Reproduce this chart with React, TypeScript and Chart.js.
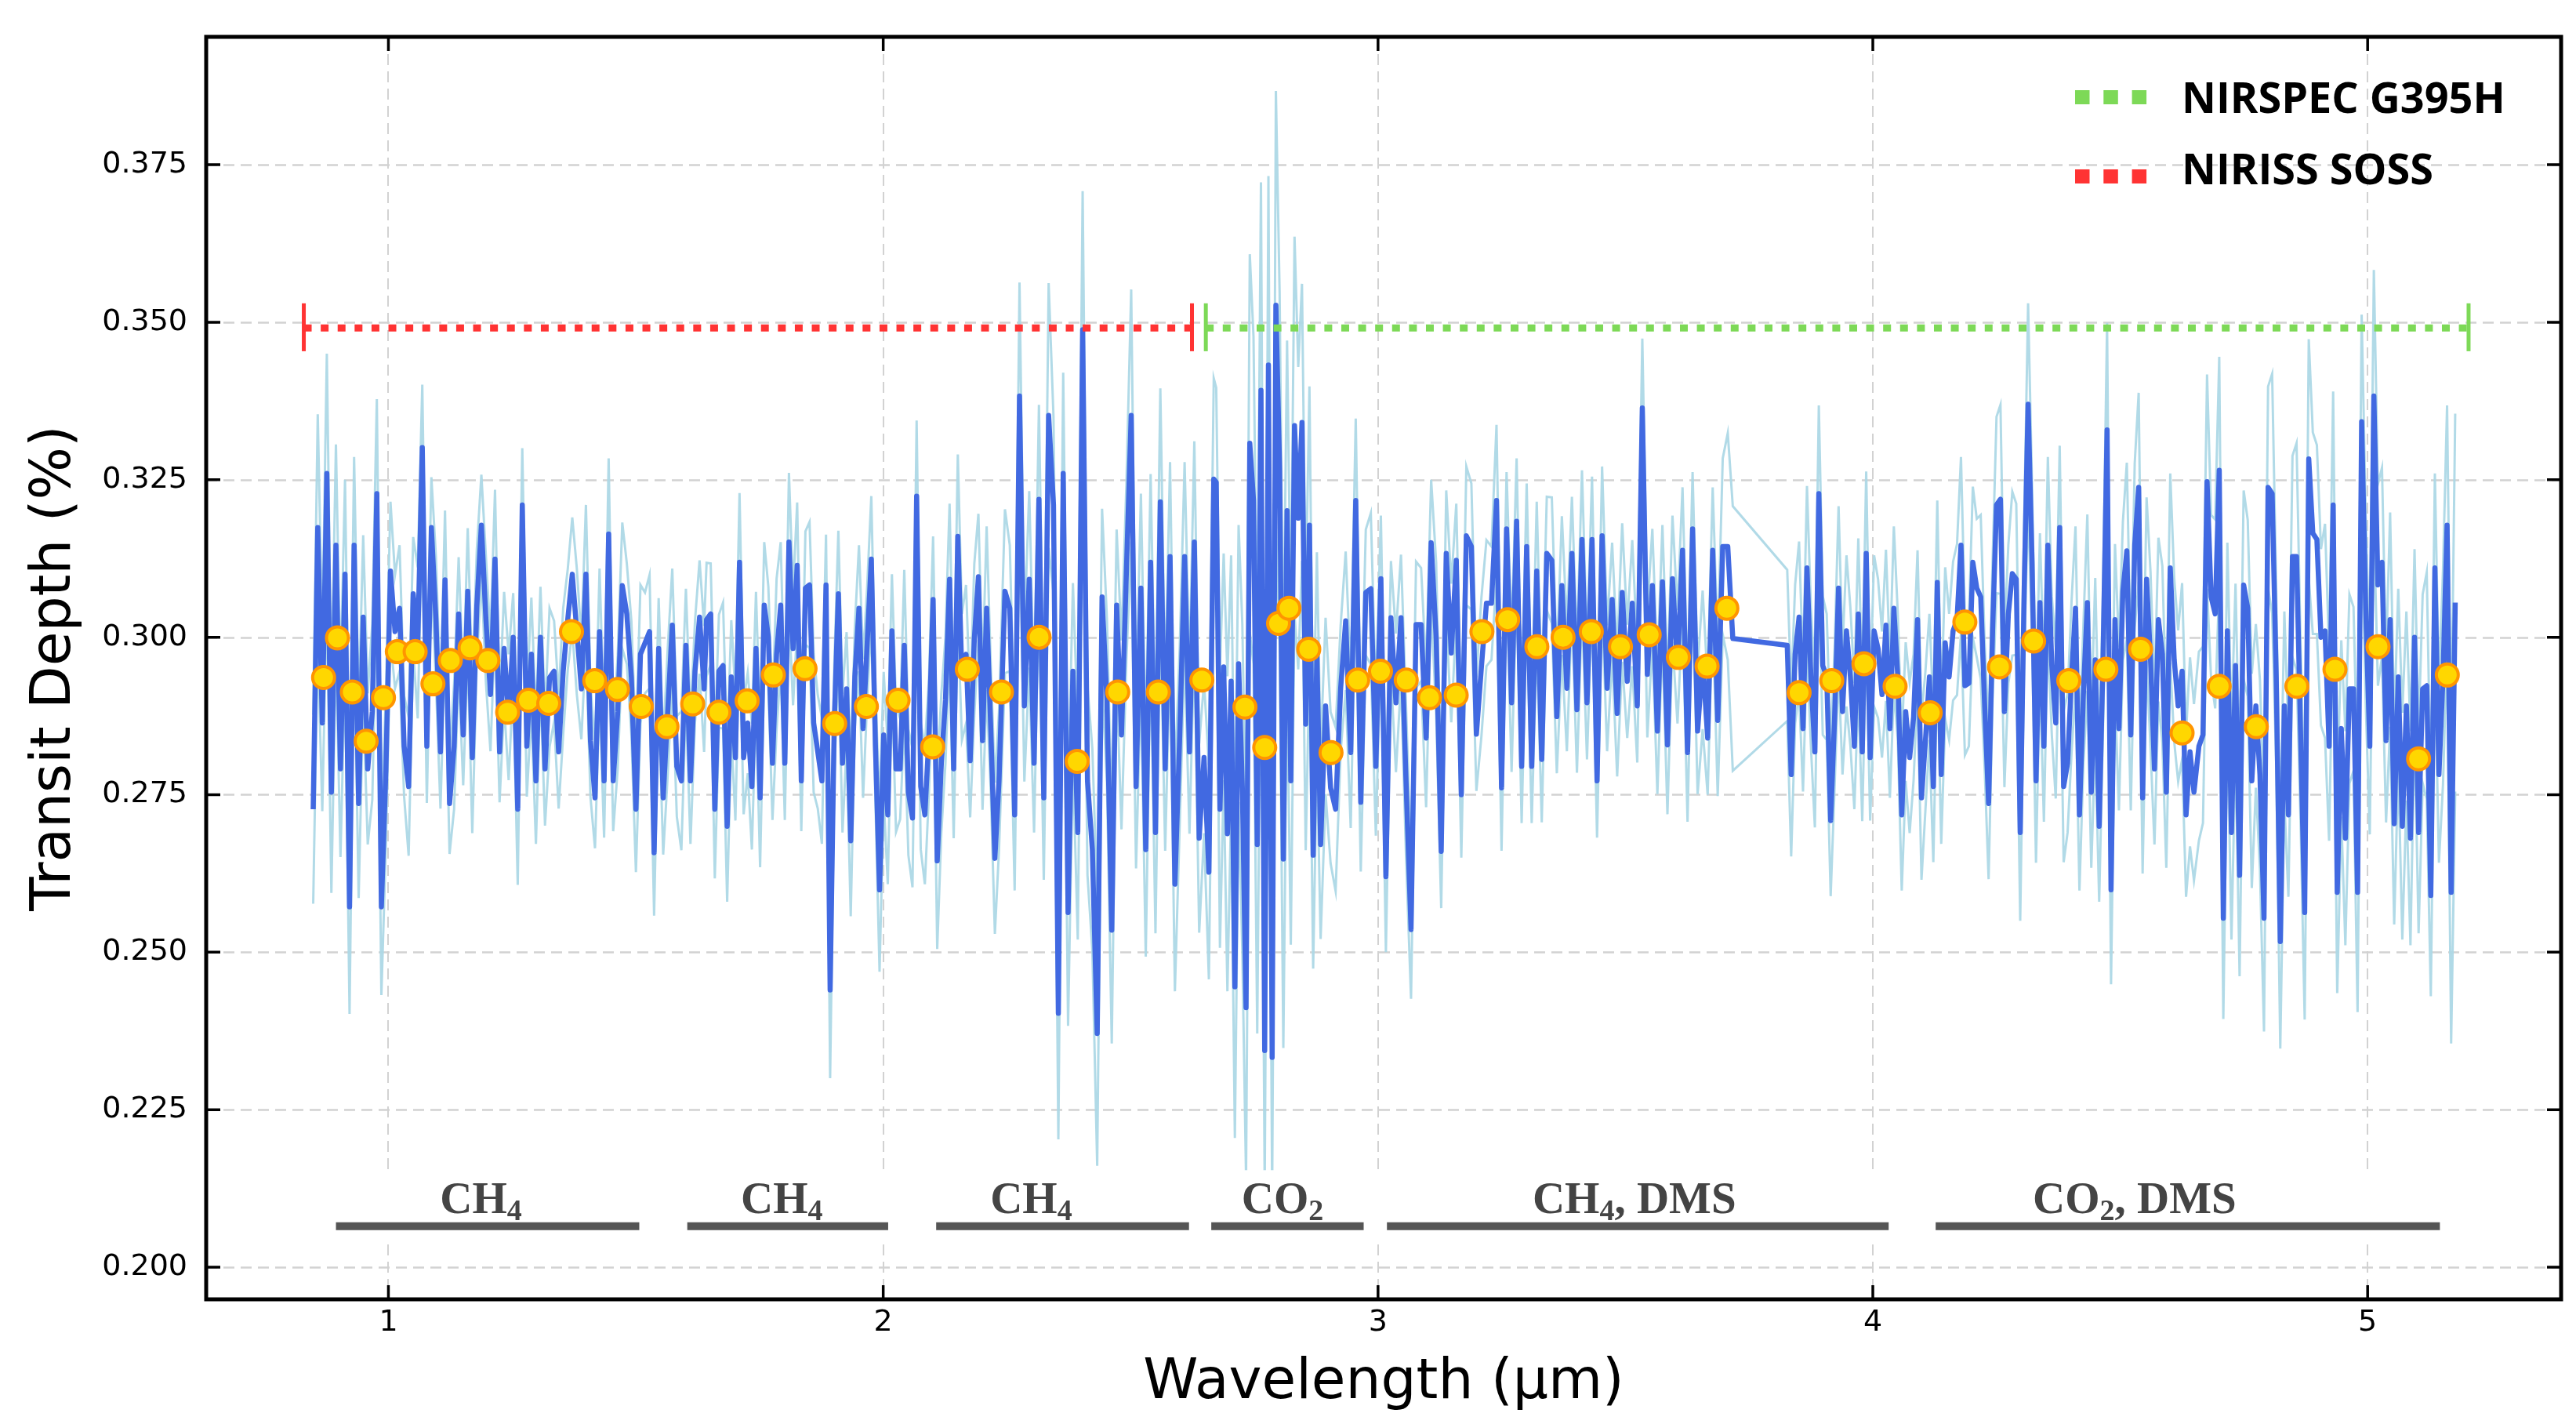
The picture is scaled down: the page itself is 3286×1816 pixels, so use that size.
import React, { useEffect, useRef } from "react";
import { Chart, registerables } from "chart.js";

Chart.register(...registerables);

const CANVAS_W = 3286;
const CANVAS_H = 1816;

// Axis extents and tick positions
const wavelengthLimits = [0.6317, 5.391];
const depthLimits = [0.1949, 0.3953];
const wavelengthTicks = [1, 2, 3, 4, 5];
const depthTicks = [0.2, 0.225, 0.25, 0.275, 0.3, 0.325, 0.35, 0.375];

// Transmission spectrum, stored per detector stretch.
// span = first and last wavelength (µm), depth in %, err = 1-sigma in units of 0.001 %.
const spanA = [0.848, 1.638];
const depthA = [
  0.2727, 0.3174, 0.2864, 0.326, 0.2754, 0.3146, 0.2791, 0.31, 0.2572, 0.3146,
  0.2736, 0.3032, 0.2791, 0.2882, 0.3228, 0.2572, 0.2791, 0.3105, 0.3009, 0.3046,
  0.2827, 0.2763, 0.3069, 0.2991, 0.3301, 0.2827, 0.3174, 0.3028, 0.2818, 0.3091,
  0.2736, 0.2827, 0.3037, 0.2845, 0.3073, 0.2809, 0.305, 0.3178, 0.3028, 0.2909,
  0.3124, 0.2818, 0.2982, 0.2873, 0.3, 0.2727, 0.321, 0.2827, 0.2973, 0.2772,
  0.3, 0.2791, 0.2936, 0.2946, 0.2818, 0.2946, 0.3028, 0.31, 0.3009, 0.2918,
  0.31, 0.2836, 0.2745, 0.3009, 0.2772, 0.3164, 0.2772, 0.2882, 0.3082, 0.3037,
  0.2936, 0.2727, 0.2973, 0.2991, 0.3009, 0.2658, 0.2982, 0.2745, 0.2882, 0.3019,
  0.2795, 0.2772, 0.2987, 0.2772, 0.2946, 0.3032, 0.2918,
];
const errA = [
  15, 18, 14, 19, 16, 16, 14, 15, 17, 14,
  15, 13, 12, 14, 15, 14, 12, 11, 9, 10,
  8, 11, 9, 12, 10, 9, 8, 10, 9, 11,
  8, 10, 9, 8, 10, 12, 9, 8, 10, 9,
  11, 8, 9, 10, 7, 12, 9, 8, 9, 10,
  8, 9, 11, 8, 9, 10, 8, 9, 10, 8,
  11, 9, 8, 10, 9, 12, 8, 9, 10, 8,
  9, 10, 11, 8, 9, 10, 8, 9, 10, 9,
  8, 11, 9, 10, 8, 9, 10,
];

const spanB1 = [1.643, 2.234];
const depthB1 = [
  0.3028, 0.3037, 0.2727, 0.2946, 0.2955, 0.27, 0.2937, 0.2809, 0.3119, 0.2809,
  0.2864, 0.2763, 0.2982, 0.2745, 0.3051, 0.3, 0.28, 0.2973, 0.3051, 0.28,
  0.3151, 0.2982, 0.3114, 0.2772, 0.3078, 0.3083, 0.2864, 0.2818, 0.2772, 0.3083,
  0.244, 0.2864, 0.3069, 0.28, 0.2918, 0.2677, 0.2937, 0.3046, 0.2855, 0.2991,
  0.3124, 0.2827, 0.2599, 0.2845, 0.2718, 0.301, 0.2791, 0.2791, 0.2987, 0.2754,
  0.2713, 0.3224, 0.2763, 0.2718, 0.2845, 0.306, 0.2645, 0.28, 0.29, 0.3092,
  0.2791, 0.316, 0.2937, 0.2973, 0.2804, 0.2996, 0.3096, 0.2836, 0.3046, 0.2855,
  0.2649, 0.2772,
];
const errB1 = [
  9, 8, 11, 9, 10, 12, 9, 10, 11, 9,
  8, 10, 9, 11, 10, 8, 9, 12, 10, 9,
  11, 9, 10, 8, 9, 10, 11, 9, 10, 8,
  14, 9, 10, 11, 9, 12, 8, 10, 11, 9,
  10, 9, 13, 10, 11, 9, 10, 8, 12, 10,
  11, 12, 10, 11, 9, 10, 14, 11, 10, 12,
  11, 13, 10, 11, 9, 12, 10, 11, 13, 10,
  12, 11,
];

const spanB2 = [2.246, 2.668];
const depthB2 = [
  0.3073, 0.3046, 0.2718, 0.3383, 0.2891, 0.3092, 0.28, 0.3219,
  0.2745, 0.3352, 0.321, 0.2403, 0.326, 0.2563, 0.2946, 0.269, 0.3488, 0.2772,
  0.2663, 0.2371, 0.3064, 0.29, 0.2535, 0.3051, 0.2845, 0.3101, 0.3352, 0.2763,
  0.3078, 0.2663, 0.3119, 0.269, 0.3215, 0.2791, 0.3128, 0.2608, 0.2845, 0.3128,
  0.2818, 0.3151, 0.2681, 0.2809, 0.2627, 0.3251,
];
const errB2 = [
  13, 10, 12, 18, 12, 14, 11, 15,
  13, 21, 14, 20, 16, 18, 14, 17, 22, 15,
  16, 21, 14, 13, 18, 12, 15, 14, 20, 13,
  15, 17, 14, 16, 18, 13, 15, 17, 14, 15,
  13, 16, 15, 12, 17, 16,
];

const spanC1 = [2.673, 2.884];
const depthC1 = [
  0.3246, 0.2727, 0.2953, 0.2688, 0.293, 0.2445, 0.2958, 0.2761, 0.2412, 0.3308,
  0.3217, 0.2671, 0.3392, 0.2344, 0.3432, 0.2333, 0.3527, 0.3268, 0.2648, 0.3201,
  0.2772, 0.3336, 0.3189, 0.3341, 0.2862, 0.3178, 0.2654, 0.2975, 0.2671,
];
const errC1 = [
  15, 22, 18, 25, 20, 24, 22, 26, 27, 30,
  26, 30, 33, 22, 30, 22, 34, 28, 30, 27,
  26, 30, 24, 22, 20, 22, 18, 16, 15,
];

const spanC2 = [2.894, 3.717];
const depthC2 = [
  0.2891, 0.2761, 0.2727, 0.2919, 0.3026, 0.2817, 0.3217, 0.2738, 0.3071, 0.3077,
  0.2795, 0.3093, 0.262, 0.3031, 0.2896, 0.3031, 0.2772, 0.2536, 0.302, 0.302,
  0.284, 0.315, 0.2998, 0.266, 0.3133, 0.2975, 0.3122, 0.275, 0.3161, 0.3144,
  0.2846, 0.2953, 0.3054, 0.3054, 0.3217, 0.2761, 0.3172, 0.2896, 0.3184, 0.2795,
  0.3144, 0.2795, 0.3105, 0.2806, 0.3133, 0.3122, 0.2874, 0.3082, 0.2919, 0.3133,
  0.2885, 0.3155, 0.2896, 0.3155, 0.2772, 0.3161, 0.2919, 0.306, 0.2879, 0.3071,
  0.293, 0.3054, 0.2891, 0.3364, 0.2941, 0.3082, 0.2851, 0.3088, 0.2829, 0.3093,
  0.2953, 0.3138, 0.2817, 0.3172, 0.2851, 0.2964, 0.284, 0.3138, 0.2868, 0.3144,
  0.3144, 0.2998,
];
const errC2 = [
  14, 12, 13, 10, 11, 12, 13, 11, 10, 12,
  11, 10, 12, 9, 11, 10, 12, 11, 10, 9,
  11, 10, 12, 9, 10, 11, 9, 10, 11, 10,
  9, 11, 10, 9, 12, 10, 9, 11, 10, 9,
  10, 9, 11, 10, 9, 10, 9, 11, 10, 9,
  10, 11, 9, 10, 9, 11, 10, 9, 10, 11,
  9, 10, 9, 11, 10, 9, 10, 9, 11, 10,
  9, 10, 11, 9, 10, 11, 9, 10, 12, 14,
  18, 21,
];

const spanD = [3.827, 4.649];
const depthD = [
  0.2987, 0.2782, 0.2973, 0.3032, 0.2855, 0.311, 0.2937, 0.2818, 0.3228, 0.2955,
  0.2937, 0.2709, 0.2873, 0.3078, 0.2882, 0.301, 0.2937, 0.2827, 0.3037, 0.2818,
  0.3133, 0.2809, 0.301, 0.2982, 0.2909, 0.3019, 0.2855, 0.3046, 0.2937, 0.2718,
  0.2882, 0.2809, 0.2873, 0.3028, 0.2745, 0.2836, 0.2937, 0.2763, 0.3087, 0.2782,
  0.2991, 0.2937, 0.301, 0.3028, 0.3146, 0.2923, 0.2927, 0.3119, 0.3078, 0.3064,
  0.2891, 0.2736, 0.301, 0.321, 0.3219, 0.2882, 0.3037, 0.3101, 0.3092, 0.269,
  0.3073, 0.337, 0.3119, 0.2772, 0.3055, 0.2827, 0.3146, 0.2955, 0.2864, 0.3174,
  0.2763, 0.28, 0.2937, 0.3046, 0.2718, 0.2909, 0.3055, 0.2754, 0.2964, 0.27,
  0.2973, 0.3329, 0.2599, 0.3028, 0.2855, 0.3073, 0.3137, 0.2845, 0.3146, 0.3238,
  0.2745, 0.3092, 0.2964, 0.2791, 0.3028, 0.2973, 0.2754, 0.311, 0.2964, 0.2891,
  0.2946, 0.2718, 0.2818, 0.2754,
];
const errD = [
  12, 13, 11, 12, 10, 13, 11, 12, 14, 11,
  10, 12, 11, 13, 10, 12, 11, 10, 12, 11,
  13, 10, 12, 11, 10, 12, 11, 13, 10, 12,
  11, 12, 10, 11, 13, 11, 10, 12, 13, 11,
  12, 10, 11, 12, 14, 11, 10, 12, 11, 13,
  10, 12, 11, 14, 15, 12, 11, 13, 12, 14,
  11, 16, 12, 13, 11, 12, 14, 11, 12, 13,
  12, 11, 12, 13, 12, 11, 14, 12, 13, 12,
  11, 17, 15, 12, 13, 11, 14, 12, 13, 15,
  12, 13, 14, 12, 13, 14, 12, 15, 13, 12,
  14, 13, 15, 14,
];

const spanE = [4.659, 5.177];
const depthE = [
  0.2827, 0.2845, 0.3247, 0.3064, 0.3037, 0.3265, 0.2554, 0.301, 0.269, 0.2955,
  0.2622, 0.3083, 0.3046, 0.2772, 0.2891, 0.2782, 0.2554, 0.3238, 0.3228, 0.2937,
  0.2517, 0.2891, 0.2718, 0.3128, 0.3128, 0.2845, 0.2563, 0.3283, 0.3165, 0.3155,
  0.3, 0.301, 0.2827, 0.321, 0.2595, 0.2855, 0.2681, 0.2918, 0.2918, 0.2595,
  0.3342, 0.3046, 0.2827, 0.3383, 0.3083, 0.3119, 0.2836, 0.3028, 0.2704, 0.2937,
  0.27, 0.2891, 0.2681, 0.3, 0.269, 0.2918, 0.2923, 0.259, 0.311, 0.2782,
  0.2937, 0.3178, 0.2595, 0.3055,
];
const errE = [
  15, 14, 17, 13, 15, 18, 16, 14, 17, 13,
  16, 15, 14, 17, 13, 15, 18, 16, 19, 14,
  17, 15, 13, 16, 18, 14, 17, 19, 16, 15,
  14, 17, 15, 18, 16, 14, 17, 15, 13, 19,
  17, 15, 14, 20, 16, 15, 13, 17, 16, 14,
  18, 15, 17, 14, 16, 15, 18, 16, 15, 14,
  17, 19, 24, 30,
];

// Binned spectrum (yellow markers)
const binWavelength = [
  0.869, 0.897, 0.927, 0.955, 0.99, 1.018, 1.054, 1.09, 1.125, 1.165,
  1.201, 1.241, 1.283, 1.324, 1.37, 1.417, 1.463, 1.511, 1.563, 1.615,
  1.668, 1.725, 1.778, 1.842, 1.902, 1.966, 2.03, 2.1, 2.17, 2.239,
  2.315, 2.392, 2.474, 2.556, 2.644, 2.731, 2.771, 2.799, 2.82, 2.86,
  2.905, 2.959, 3.005, 3.057, 3.104, 3.158, 3.21, 3.262, 3.321, 3.374,
  3.431, 3.49, 3.548, 3.607, 3.665, 3.705, 3.851, 3.917, 3.982, 4.045,
  4.116, 4.186, 4.256, 4.325, 4.396, 4.471, 4.541, 4.625, 4.7, 4.775,
  4.857, 4.934, 5.021, 5.103, 5.161,
];
const binDepth = [
  0.2936, 0.2999, 0.2913, 0.2835, 0.2904, 0.2977, 0.2977, 0.2926, 0.2963, 0.2983,
  0.2963, 0.2881, 0.29, 0.2895, 0.3009, 0.2931, 0.2917, 0.289, 0.2858, 0.2894,
  0.2881, 0.2899, 0.294, 0.295, 0.2863, 0.289, 0.29, 0.2826, 0.2949, 0.2913,
  0.3, 0.2803, 0.2913, 0.2913, 0.2932, 0.2889, 0.2825, 0.3022, 0.3046, 0.2981,
  0.2817, 0.2932, 0.2946, 0.2932, 0.2904, 0.2908, 0.3009, 0.3028, 0.2985, 0.3,
  0.3009, 0.2985, 0.3004, 0.2968, 0.2954, 0.3046, 0.2912, 0.2931, 0.2958, 0.2922,
  0.288, 0.3024, 0.2953, 0.2994, 0.2931, 0.2949, 0.2981, 0.2848, 0.2922, 0.2858,
  0.2922, 0.2949, 0.2985, 0.2807, 0.294,
];

// Instrument coverage
const instrumentNames = ["NIRSPEC G395H", "NIRISS SOSS"];
const nirspecSpan = [2.652, 5.204];
const nirissSpan = [0.829, 2.624];
const coverageLevel = 0.3491;
const coverageCap = [0.3454, 0.353];

// Molecular feature bands
const bandLabels = ["CH₄", "CH₄", "CH₄", "CO₂", "CH₄, DMS", "CO₂, DMS"];
const bandStart = [0.894, 1.604, 2.107, 2.663, 3.018, 4.127];
const bandEnd = [1.507, 2.01, 2.618, 2.971, 4.032, 5.146];
const bandLabelCenter = [1.187, 1.795, 2.299, 2.807, 3.518, 4.529];
const bandLevel = 0.2065;
const bandLabelBaseline = 0.2086;
const bandBackdrop = [0.2038, 0.2154];

const DARK_BLUE = "#4169E1";
const LIGHT_BLUE = "rgba(173, 216, 230, 0.95)";
const RED = "#ff3333";
const GREEN = "#7dd957";
const GOLD = "#FFD700";
const ORANGE = "#FF9500";
const GRID = "#d2d2d2";

type Pt = { x: number; y: number; e: number };

function block(span: number[], depth: number[], err: number[]): Pt[] {
  const n = depth.length;
  return depth.map((d, i) => ({
    x: span[0] + ((span[1] - span[0]) * i) / (n - 1),
    y: d,
    e: err[i] / 1000,
  }));
}

const SUBSCRIPTS = "₀₁₂₃₄₅₆₇₈₉";

function drawFormula(ctx: CanvasRenderingContext2D, text: string, cx: number, baseline: number) {
  const mainFont = 'bold 57px "Liberation Serif", "Times New Roman", serif';
  const subFont = 'bold 38px "Liberation Serif", "Times New Roman", serif';
  const parts: { t: string; sub: boolean }[] = [];
  for (const ch of text) {
    const k = SUBSCRIPTS.indexOf(ch);
    const sub = k >= 0;
    const t = sub ? String(k) : ch;
    const last = parts[parts.length - 1];
    if (last && last.sub === sub) last.t += t;
    else parts.push({ t, sub });
  }
  let total = 0;
  const widths = parts.map((p) => {
    ctx.font = p.sub ? subFont : mainFont;
    const w = ctx.measureText(p.t).width;
    total += w;
    return w;
  });
  let x = cx - total / 2;
  ctx.textAlign = "left";
  ctx.textBaseline = "alphabetic";
  parts.forEach((p, i) => {
    ctx.font = p.sub ? subFont : mainFont;
    ctx.fillText(p.t, x, baseline + (p.sub ? 9 : 0));
    x += widths[i];
  });
}

const decorations = {
  id: "decorations",
  beforeDatasetsDraw(chart: any) {
    const { ctx, chartArea: a, scales } = chart;
    const xs = scales.x;
    const ys = scales.y;
    ctx.save();
    ctx.beginPath();
    ctx.rect(a.left, a.top, a.right - a.left, a.bottom - a.top);
    ctx.clip();
    ctx.strokeStyle = GRID;
    ctx.lineWidth = 2.5;
    ctx.setLineDash([14, 8]);
    for (const v of depthTicks) {
      const py = Math.round(ys.getPixelForValue(v)) + 0.5;
      ctx.beginPath();
      ctx.moveTo(a.left, py);
      ctx.lineTo(a.right, py);
      ctx.stroke();
    }
    ctx.lineWidth = 2;
    for (const v of wavelengthTicks) {
      const px = Math.round(xs.getPixelForValue(v));
      ctx.beginPath();
      ctx.moveTo(px, a.top);
      ctx.lineTo(px, a.bottom);
      ctx.stroke();
    }
    ctx.restore();
  },
  afterDatasetsDraw(chart: any) {
    const { ctx, chartArea: a, scales } = chart;
    const xs = scales.x;
    const ys = scales.y;
    ctx.save();

    // white backdrop behind the molecular band annotations
    const bTop = ys.getPixelForValue(bandBackdrop[1]);
    const bBot = ys.getPixelForValue(bandBackdrop[0]);
    ctx.fillStyle = "#ffffff";
    ctx.fillRect(a.left + 3, bTop, a.right - a.left - 6, bBot - bTop);

    // band bars and labels
    const barY = ys.getPixelForValue(bandLevel);
    ctx.strokeStyle = "#555555";
    ctx.lineWidth = 10;
    ctx.lineCap = "butt";
    bandLabels.forEach((label, i) => {
      ctx.beginPath();
      ctx.moveTo(xs.getPixelForValue(bandStart[i]), barY);
      ctx.lineTo(xs.getPixelForValue(bandEnd[i]), barY);
      ctx.stroke();
      ctx.fillStyle = "#444444";
      drawFormula(ctx, label, xs.getPixelForValue(bandLabelCenter[i]), ys.getPixelForValue(bandLabelBaseline));
    });

    // inward tick marks
    ctx.strokeStyle = "#000";
    ctx.lineWidth = 3.5;
    const tl = 18;
    for (const v of depthTicks) {
      const py = ys.getPixelForValue(v);
      ctx.beginPath();
      ctx.moveTo(a.left, py);
      ctx.lineTo(a.left + tl, py);
      ctx.moveTo(a.right, py);
      ctx.lineTo(a.right - tl, py);
      ctx.stroke();
    }
    for (const v of wavelengthTicks) {
      const px = xs.getPixelForValue(v);
      ctx.beginPath();
      ctx.moveTo(px, a.bottom);
      ctx.lineTo(px, a.bottom - tl);
      ctx.moveTo(px, a.top);
      ctx.lineTo(px, a.top + tl);
      ctx.stroke();
    }

    // frame
    ctx.lineWidth = 5;
    ctx.strokeRect(a.left, a.top, a.right - a.left, a.bottom - a.top);

    // legend
    const rows = [
      { name: instrumentNames[0], color: GREEN, markY: 124, base: 144 },
      { name: instrumentNames[1], color: RED, markY: 225, base: 235 },
    ];
    ctx.font = 'bold 54px "Open Sans", "Noto Sans", sans-serif';
    ctx.textAlign = "left";
    ctx.textBaseline = "alphabetic";
    for (const r of rows) {
      ctx.fillStyle = r.color;
      for (let k = 0; k < 3; k++) ctx.fillRect(2647 + k * 36.3, r.markY - 9, 18.5, 18);
      ctx.fillStyle = "#000";
      ctx.fillText(r.name, 2783, r.base);
    }
    ctx.restore();
  },
};

export default function App() {
  const ref = useRef<HTMLCanvasElement | null>(null);

  useEffect(() => {
    if (!ref.current) return;
    const spectrum: Pt[] = [
      ...block(spanA, depthA, errA),
      ...block(spanB1, depthB1, errB1),
      ...block(spanB2, depthB2, errB2),
      ...block(spanC1, depthC1, errC1),
      ...block(spanC2, depthC2, errC2),
      ...block(spanD, depthD, errD),
      ...block(spanE, depthE, errE),
    ];
    const dark = spectrum.map((p) => ({ x: p.x, y: p.y }));
    const upper = spectrum.map((p) => ({ x: p.x, y: p.y + p.e }));
    const lower = spectrum.map((p) => ({ x: p.x, y: p.y - p.e }));
    const bins = binWavelength.map((w, i) => ({ x: w, y: binDepth[i] }));

    const span = (s: number[], color: string) => ({
      data: [
        { x: s[0], y: coverageLevel },
        { x: s[1], y: coverageLevel },
      ],
      borderColor: color,
      borderWidth: 9,
      borderDash: [10, 11.6],
      borderCapStyle: "butt",
      pointRadius: 0,
      order: 1,
    });
    const cap = (x: number, color: string) => ({
      data: [
        { x, y: coverageCap[0] },
        { x, y: coverageCap[1] },
      ],
      borderColor: color,
      borderWidth: 5,
      pointRadius: 0,
      order: 1,
    });

    const chart = new Chart(ref.current, {
      type: "line",
      data: {
        datasets: [
          {
            data: bins,
            showLine: false,
            pointRadius: 14,
            pointBackgroundColor: GOLD,
            pointBorderColor: ORANGE,
            pointBorderWidth: 4,
            order: 0,
          },
          span(nirissSpan, RED),
          cap(nirissSpan[0], RED),
          cap(nirissSpan[1], RED),
          span(nirspecSpan, GREEN),
          cap(nirspecSpan[0], GREEN),
          cap(nirspecSpan[1], GREEN),
          {
            data: dark,
            borderColor: DARK_BLUE,
            borderWidth: 6.5,
            borderJoinStyle: "round",
            pointRadius: 0,
            tension: 0,
            order: 2,
          },
          { data: upper, borderColor: LIGHT_BLUE, borderWidth: 3, pointRadius: 0, tension: 0, order: 3 },
          { data: lower, borderColor: LIGHT_BLUE, borderWidth: 3, pointRadius: 0, tension: 0, order: 3 },
        ] as any,
      },
      options: {
        responsive: false,
        animation: false,
        devicePixelRatio: 1,
        events: [],
        layout: { padding: { left: 0, top: 47, right: 19, bottom: 0 } },
        plugins: { legend: { display: false }, tooltip: { enabled: false } },
        scales: {
          x: {
            type: "linear",
            min: wavelengthLimits[0],
            max: wavelengthLimits[1],
            grid: { display: false, drawTicks: false },
            border: { display: false },
            afterBuildTicks: (s: any) => {
              s.ticks = wavelengthTicks.map((v) => ({ value: v }));
            },
            afterFit: (s: any) => {
              s.height = CANVAS_H - 1657;
            },
            ticks: {
              padding: 7,
              color: "#000",
              font: { family: "DejaVu Sans", size: 38 },
              maxRotation: 0,
              autoSkip: false,
              callback: (v: any) => String(v),
            },
            title: {
              display: true,
              text: "Wavelength (µm)",
              color: "#000",
              font: { family: "DejaVu Sans", size: 71 },
              padding: { top: 0, bottom: 9 },
            },
          },
          y: {
            type: "linear",
            min: depthLimits[0],
            max: depthLimits[1],
            grid: { display: false, drawTicks: false },
            border: { display: false },
            afterBuildTicks: (s: any) => {
              s.ticks = depthTicks.map((v) => ({ value: v }));
            },
            afterFit: (s: any) => {
              s.width = 263;
            },
            ticks: {
              padding: 24,
              color: "#000",
              font: { family: "DejaVu Sans", size: 38 },
              autoSkip: false,
              callback: (v: any) => Number(v).toFixed(3),
            },
            title: {
              display: true,
              text: "Transit Depth (%)",
              color: "#000",
              font: { family: "DejaVu Sans", size: 71 },
              padding: { top: 28, bottom: 0 },
            },
          },
        },
      } as any,
      plugins: [decorations],
    });
    return () => chart.destroy();
  }, []);

  return (
    <div style={{ position: "fixed", left: 0, top: 0, width: CANVAS_W, height: CANVAS_H, background: "#fff" }}>
      <canvas ref={ref} width={CANVAS_W} height={CANVAS_H} style={{ display: "block" }} />
    </div>
  );
}
